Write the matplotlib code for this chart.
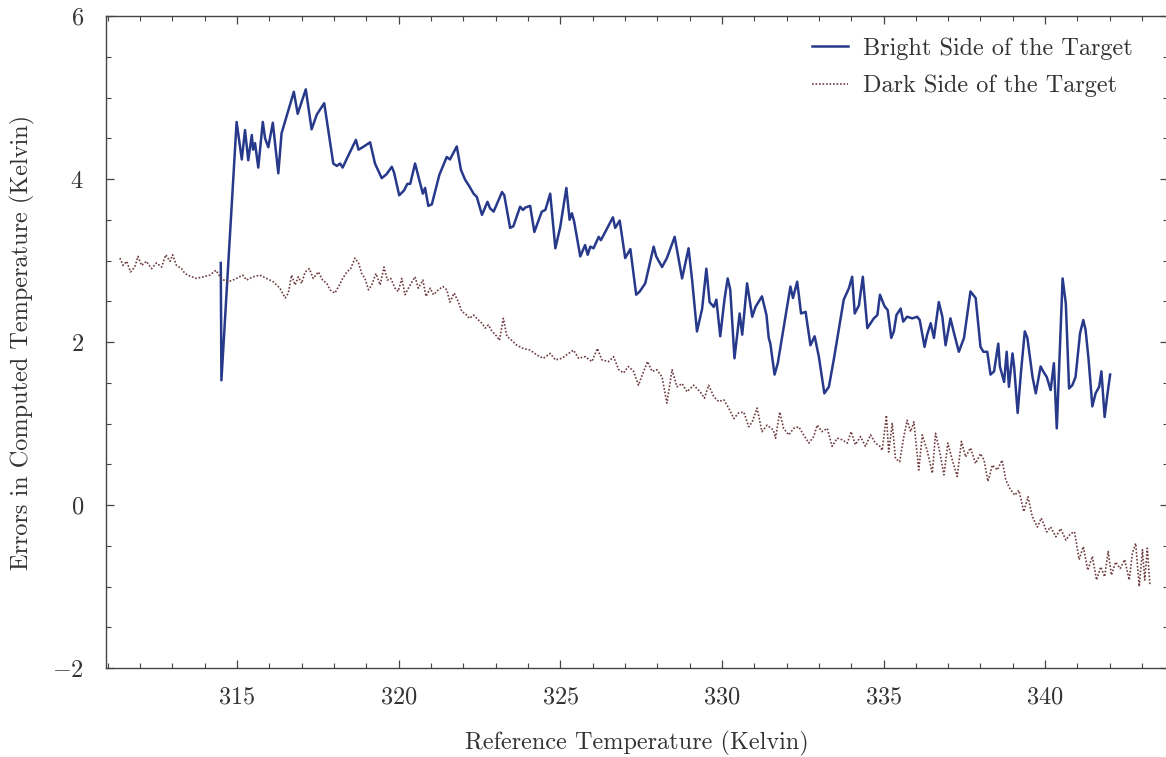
import numpy as np
import matplotlib
matplotlib.use("Agg")
import matplotlib.pyplot as plt
from matplotlib.ticker import MultipleLocator

# ---------------- data ----------------
bright_x = [314.50, 314.52, 314.99, 315.15, 315.25, 315.35, 315.46, 315.50, 315.56, 315.66,
            315.80, 315.87, 315.97, 316.11, 316.28, 316.38, 316.76, 316.88, 317.13, 317.31,
            317.47, 317.70, 317.98, 318.09, 318.19, 318.27, 318.40, 318.68, 318.76, 318.89,
            319.12, 319.27, 319.48, 319.63, 319.79, 319.86, 320.02, 320.17, 320.27, 320.36,
            320.51, 320.75, 320.82, 320.92, 321.03, 321.26, 321.49, 321.59, 321.80, 321.93,
            322.06, 322.19, 322.32, 322.42, 322.58, 322.75, 322.83, 322.94, 323.20, 323.27,
            323.45, 323.55, 323.76, 323.85, 323.92, 324.07, 324.20, 324.43, 324.54, 324.69,
            324.85, 325.00, 325.19, 325.29, 325.36, 325.43, 325.62, 325.77, 325.85, 325.93,
            326.03, 326.19, 326.26, 326.63, 326.70, 326.84, 327.01, 327.17, 327.35, 327.46,
            327.63, 327.89, 327.97, 328.15, 328.30, 328.54, 328.77, 328.97, 329.08, 329.23,
            329.39, 329.52, 329.62, 329.75, 329.83, 329.95, 330.08, 330.18, 330.26, 330.39,
            330.55, 330.63, 330.78, 330.94, 331.04, 331.24, 331.38, 331.45, 331.50, 331.63,
            331.73, 332.12, 332.20, 332.33, 332.45, 332.59, 332.74, 332.87, 333.00, 333.17,
            333.31, 333.46, 333.77, 333.93, 334.03, 334.11, 334.24, 334.36, 334.50, 334.70,
            334.81, 334.89, 335.03, 335.13, 335.24, 335.32, 335.40, 335.53, 335.61, 335.73,
            335.89, 336.04, 336.12, 336.27, 336.35, 336.46, 336.56, 336.71, 336.82, 336.92,
            337.07, 337.18, 337.33, 337.49, 337.69, 337.85, 338.00, 338.09, 338.21, 338.31,
            338.42, 338.55, 338.60, 338.73, 338.81, 338.88, 338.99, 339.04, 339.15, 339.25,
            339.37, 339.45, 339.61, 339.71, 339.86, 339.94, 340.05, 340.17, 340.27, 340.36,
            340.43, 340.54, 340.64, 340.74, 340.84, 340.94, 341.08, 341.18, 341.25, 341.34,
            341.46, 341.56, 341.67, 341.74, 341.84, 341.93, 342.01]
bright_y = [2.97, 1.53, 4.70, 4.24, 4.60, 4.23, 4.54, 4.36, 4.44, 4.14,
            4.70, 4.50, 4.39, 4.69, 4.07, 4.56, 5.07, 4.80, 5.10, 4.61,
            4.79, 4.93, 4.19, 4.16, 4.19, 4.14, 4.25, 4.48, 4.36, 4.39,
            4.45, 4.19, 4.01, 4.06, 4.15, 4.08, 3.80, 3.86, 3.94, 3.94,
            4.19, 3.82, 3.89, 3.67, 3.69, 4.05, 4.27, 4.24, 4.40, 4.11,
            3.99, 3.91, 3.82, 3.78, 3.56, 3.72, 3.64, 3.60, 3.84, 3.80,
            3.40, 3.42, 3.66, 3.62, 3.65, 3.67, 3.35, 3.60, 3.62, 3.82,
            3.15, 3.41, 3.89, 3.50, 3.58, 3.48, 3.05, 3.19, 3.07, 3.17,
            3.15, 3.29, 3.25, 3.53, 3.40, 3.49, 3.03, 3.14, 2.58, 2.62,
            2.72, 3.17, 3.05, 2.92, 3.03, 3.29, 2.78, 3.15, 2.76, 2.13,
            2.41, 2.90, 2.49, 2.43, 2.52, 2.07, 2.52, 2.78, 2.64, 1.80,
            2.35, 2.09, 2.72, 2.31, 2.43, 2.56, 2.33, 2.05, 1.98, 1.60,
            1.74, 2.68, 2.54, 2.74, 2.35, 2.37, 1.96, 2.07, 1.82, 1.37,
            1.45, 1.78, 2.52, 2.66, 2.80, 2.35, 2.45, 2.80, 2.17, 2.29,
            2.33, 2.58, 2.44, 2.39, 2.05, 2.13, 2.33, 2.41, 2.25, 2.31,
            2.29, 2.31, 2.27, 1.94, 2.09, 2.23, 2.05, 2.49, 2.31, 1.96,
            2.29, 2.11, 1.88, 2.05, 2.62, 2.54, 1.94, 1.88, 1.88, 1.60,
            1.64, 1.98, 1.70, 1.51, 1.88, 1.45, 1.86, 1.70, 1.13, 1.62,
            2.13, 2.05, 1.57, 1.37, 1.70, 1.64, 1.57, 1.41, 1.74, 0.94,
            1.66, 2.78, 2.47, 1.43, 1.47, 1.57, 2.11, 2.27, 2.15, 1.80,
            1.21, 1.37, 1.45, 1.64, 1.08, 1.37, 1.60]

dark_x = [311.38, 311.48, 311.59, 311.71, 311.84, 311.94, 312.05, 312.20, 312.36, 312.51,
          312.67, 312.80, 312.93, 313.01, 313.13, 313.29, 313.39, 313.54, 313.75, 313.96,
          314.16, 314.35, 314.53, 314.73, 314.94, 315.18, 315.30, 315.50, 315.71, 315.92,
          316.12, 316.33, 316.49, 316.59, 316.69, 316.80, 316.90, 317.00, 317.11, 317.24,
          317.36, 317.52, 317.65, 317.78, 317.88, 318.03, 318.17, 318.27, 318.40, 318.52,
          318.65, 318.76, 318.86, 318.96, 319.07, 319.17, 319.30, 319.43, 319.55, 319.65,
          319.76, 319.89, 319.99, 320.10, 320.20, 320.33, 320.51, 320.61, 320.75, 320.85,
          320.98, 321.08, 321.23, 321.37, 321.49, 321.59, 321.72, 321.85, 321.96, 322.06,
          322.19, 322.32, 322.47, 322.58, 322.68, 322.78, 322.89, 323.04, 323.12, 323.24,
          323.35, 323.50, 323.66, 323.86, 324.07, 324.28, 324.48, 324.69, 324.85, 325.05,
          325.26, 325.41, 325.57, 325.77, 325.98, 326.15, 326.29, 326.50, 326.65, 326.81,
          326.96, 327.11, 327.27, 327.42, 327.58, 327.70, 327.84, 327.99, 328.15, 328.30,
          328.46, 328.61, 328.77, 328.92, 329.13, 329.33, 329.46, 329.59, 329.75, 329.90,
          330.06, 330.21, 330.37, 330.52, 330.68, 330.83, 330.94, 331.09, 331.24, 331.40,
          331.59, 331.66, 331.79, 331.91, 332.07, 332.22, 332.38, 332.53, 332.69, 332.84,
          332.95, 333.10, 333.26, 333.41, 333.57, 333.72, 333.88, 334.00, 334.13, 334.29,
          334.44, 334.60, 334.75, 334.89, 334.96, 335.09, 335.16, 335.27, 335.37, 335.50,
          335.61, 335.73, 335.84, 335.94, 336.09, 336.20, 336.35, 336.51, 336.61, 336.74,
          336.87, 336.99, 337.13, 337.28, 337.41, 337.54, 337.69, 337.85, 338.00, 338.11,
          338.23, 338.37, 338.52, 338.67, 338.78, 338.91, 339.06, 339.19, 339.34, 339.47,
          339.60, 339.76, 339.88, 340.05, 340.17, 340.33, 340.48, 340.64, 340.79, 340.91,
          341.05, 341.18, 341.32, 341.46, 341.59, 341.72, 341.84, 341.95, 342.05, 342.18,
          342.32, 342.46, 342.60, 342.70, 342.80, 342.91, 343.01, 343.08, 343.16, 343.24]
dark_y = [3.03, 2.94, 2.99, 2.86, 2.92, 3.05, 2.94, 2.99, 2.90, 2.97,
          2.92, 3.07, 2.99, 3.07, 2.94, 2.90, 2.84, 2.81, 2.78, 2.80,
          2.82, 2.88, 2.77, 2.74, 2.77, 2.82, 2.76, 2.80, 2.82, 2.78,
          2.74, 2.66, 2.54, 2.60, 2.82, 2.70, 2.80, 2.72, 2.86, 2.90,
          2.78, 2.86, 2.76, 2.72, 2.64, 2.60, 2.70, 2.78, 2.86, 2.90,
          3.03, 2.97, 2.84, 2.78, 2.64, 2.70, 2.84, 2.70, 2.92, 2.76,
          2.78, 2.66, 2.62, 2.78, 2.58, 2.68, 2.80, 2.66, 2.76, 2.56,
          2.66, 2.58, 2.64, 2.68, 2.64, 2.49, 2.60, 2.49, 2.37, 2.35,
          2.29, 2.33, 2.27, 2.23, 2.17, 2.21, 2.13, 2.07, 2.02, 2.29,
          2.07, 2.02, 1.96, 1.92, 1.90, 1.84, 1.80, 1.86, 1.78, 1.80,
          1.86, 1.90, 1.80, 1.82, 1.76, 1.92, 1.78, 1.76, 1.82, 1.66,
          1.62, 1.70, 1.64, 1.47, 1.64, 1.76, 1.64, 1.66, 1.57, 1.25,
          1.66, 1.45, 1.49, 1.39, 1.47, 1.39, 1.31, 1.47, 1.33, 1.27,
          1.29, 1.19, 1.06, 1.13, 1.14, 0.96, 1.02, 1.19, 0.90, 0.98,
          0.92, 0.82, 1.14, 0.94, 0.86, 0.94, 0.96, 0.86, 0.76, 0.84,
          0.98, 0.90, 0.94, 0.72, 0.82, 0.80, 0.76, 0.90, 0.74, 0.84,
          0.72, 0.86, 0.76, 0.72, 0.67, 1.10, 0.65, 1.00, 0.57, 0.53,
          0.80, 1.04, 0.90, 1.02, 0.43, 0.86, 0.67, 0.39, 0.88, 0.65,
          0.37, 0.76, 0.55, 0.35, 0.78, 0.59, 0.70, 0.51, 0.63, 0.55,
          0.29, 0.49, 0.43, 0.55, 0.31, 0.20, 0.12, 0.18, -0.08, 0.10,
          -0.14, -0.27, -0.16, -0.33, -0.27, -0.39, -0.29, -0.43, -0.35, -0.33,
          -0.67, -0.51, -0.80, -0.63, -0.92, -0.76, -0.88, -0.57, -0.86, -0.70,
          -0.78, -0.67, -0.92, -0.59, -0.47, -1.00, -0.55, -0.92, -0.53, -0.98]

series_labels = ["Bright Side of the Target", "Dark Side of the Target"]
x_label = "Reference Temperature (Kelvin)"
y_label = "Errors in Computed Temperature (Kelvin)"
x_ticks = [315, 320, 325, 330, 335, 340]
y_ticks = [-2, 0, 2, 4, 6]

# ---------------- style ----------------
plt.rcParams['font.family'] = 'serif'
plt.rcParams['font.serif'] = ['cmr10', 'DejaVu Serif']
plt.rcParams['mathtext.fontset'] = 'cm'
plt.rcParams['axes.formatter.use_mathtext'] = True
plt.rcParams['axes.unicode_minus'] = True

text_color = '#333333'
bright_color = '#27398a'
dark_color = '#6e3c40'
fs = 17.5

fig = plt.figure(figsize=(11.66, 7.57), dpi=100)
ax = fig.add_axes([106 / 1166, 89 / 757, 1062 / 1166, 652 / 757])

ax.plot(bright_x, bright_y, color=bright_color, lw=1.8, label=series_labels[0])
ax.plot(dark_x, dark_y, color=dark_color, lw=1.2, ls=(0, (1, 1.1)), label=series_labels[1])

ax.set_xlim(310.95, 343.8)
ax.set_ylim(-2, 6)
ax.set_xticks(x_ticks)
ax.set_yticks(y_ticks)
ax.xaxis.set_minor_locator(MultipleLocator(1))
ax.yaxis.set_minor_locator(MultipleLocator(0.5))
ax.tick_params(which='both', direction='in', top=True, right=True,
               colors='#444444', labelcolor=text_color, labelsize=fs)
ax.tick_params(which='major', length=6, width=0.9)
ax.tick_params(which='minor', length=3.5, width=0.8)
ax.tick_params(axis='x', which='major', pad=13)
ax.tick_params(axis='y', which='major', pad=16)
for s in ax.spines.values():
    s.set_color('#444444')
    s.set_linewidth(1.0)

ax.set_xlabel(x_label, fontsize=fs, color=text_color, labelpad=16)
ax.set_ylabel(y_label, fontsize=fs, color=text_color, labelpad=12)

leg = ax.legend(loc='upper right', bbox_to_anchor=(0.976, 0.982), frameon=False,
                fontsize=fs, handlelength=1.5, handletextpad=0.6, labelspacing=0.6,
                borderaxespad=0)
for t in leg.get_texts():
    t.set_color(text_color)

fig.savefig('out.png', dpi=100)
